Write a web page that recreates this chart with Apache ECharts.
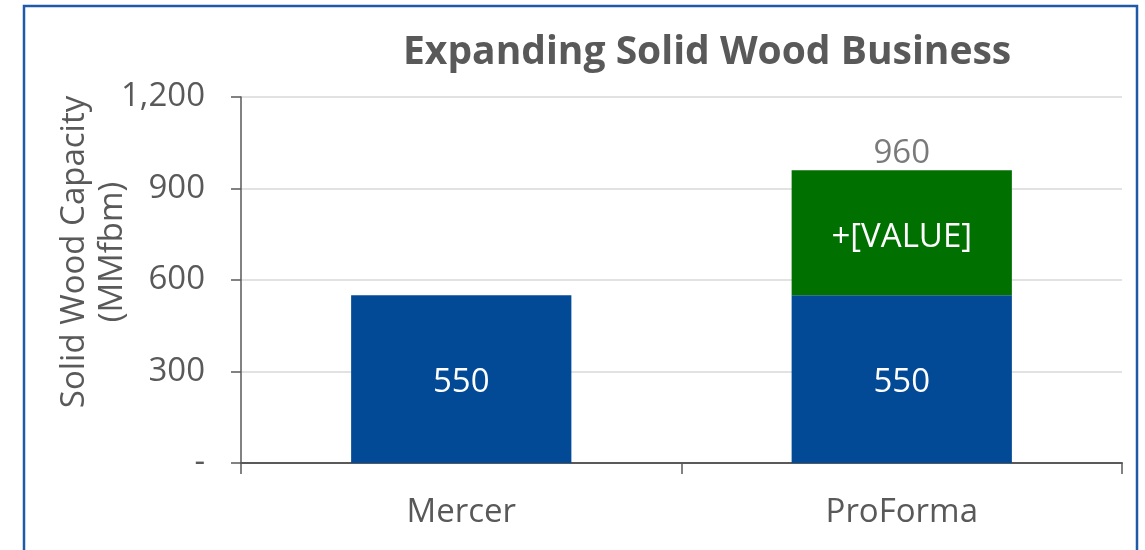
<!DOCTYPE html>
<html>
<head>
<meta charset="utf-8">
<script src="https://cdn.jsdelivr.net/npm/echarts@6/dist/echarts.min.js"></script>
<style>
  html, body { margin: 0; padding: 0; background: #fff; }
  #chart { width: 1145px; height: 550px; }
</style>
</head>
<body>
<div id="chart"></div>
<script>
// --- data ---
const categories = ['Mercer', 'ProForma'];
const baseValues = [550, 550];        // blue
const addedValues = [null, 410];      // green, labelled "+[VALUE]"
const totalValues = [null, 960];      // label above the stack
const yTicks = [0, 300, 600, 900, 1200];

const COLORS = {
  blue: '#034a96',
  green: '#007000',
  text: '#595959',
  grid: '#d9d9d9',
  axis: '#595959',
  frame: '#1f5aa6'
};
const FONT = '"Open Sans", "Noto Sans", sans-serif';
const FS = 33;

const chart = echarts.init(document.getElementById('chart'));

chart.setOption({
  animation: false,
  backgroundColor: '#fff',
  textStyle: { fontFamily: FONT },
  title: {
    text: 'Expanding Solid Wood Business',
    left: 398,
    top: 28,
    textStyle: { fontFamily: FONT, fontSize: 39, fontWeight: 'bold', color: COLORS.text }
  },
  grid: { left: 241, right: 23, top: 97, bottom: 87 },
  xAxis: {
    type: 'category',
    data: categories,
    axisLine: { lineStyle: { color: COLORS.axis, width: 2 } },
    axisTick: { show: true, length: 11, lineStyle: { color: COLORS.axis, width: 1.5 } },
    axisLabel: { color: COLORS.text, fontSize: FS, margin: 33, fontFamily: FONT }
  },
  yAxis: {
    type: 'value',
    min: yTicks[0],
    max: yTicks[yTicks.length - 1],
    interval: 300,
    axisLine: { show: true, lineStyle: { color: COLORS.axis, width: 1.5 } },
    axisTick: { show: true, length: 10, lineStyle: { color: COLORS.axis, width: 1.5 } },
    splitLine: { lineStyle: { color: COLORS.grid, width: 1.5 } },
    axisLabel: {
      color: COLORS.text,
      fontSize: FS,
      margin: 36,
      fontFamily: FONT,
      formatter: (v) => v === 0 ? '-' : v.toLocaleString('en-US')
    }
  },
  series: [
    {
      name: 'Base',
      type: 'bar',
      stack: 'cap',
      barWidth: '50%',
      data: baseValues,
      itemStyle: { color: COLORS.blue },
      label: { show: true, position: 'inside', offset: [0, 3], color: '#fff', fontSize: FS, fontFamily: FONT }
    },
    {
      name: 'Added',
      type: 'bar',
      stack: 'cap',
      barWidth: '50%',
      data: addedValues,
      itemStyle: { color: COLORS.green },
      label: {
        show: true, position: 'inside', offset: [0, 5], color: '#fff', fontSize: FS, fontFamily: FONT,
        formatter: '+[VALUE]'
      }
    },
    {
      name: 'Total',
      type: 'scatter',
      data: totalValues,
      symbolSize: 0,
      label: {
        show: true, position: 'top', distance: 0, color: COLORS.text, fontSize: FS, fontFamily: FONT,
        formatter: (p) => p.value
      }
    }
  ],
  graphic: [
    {
      type: 'rect',
      shape: { x: 24, y: 6, width: 1113, height: 600 },
      style: { fill: null, stroke: COLORS.frame, lineWidth: 2.5 },
      silent: true
    },
    {
      type: 'text',
      x: 94,
      y: 252,
      rotation: Math.PI / 2,
      style: {
        text: 'Solid Wood Capacity\n(MMfbm)',
        fill: COLORS.text,
        font: FS + 'px ' + FONT,
        align: 'center',
        verticalAlign: 'middle',
        lineHeight: 38
      }
    }
  ]
});
</script>
</body>
</html>
